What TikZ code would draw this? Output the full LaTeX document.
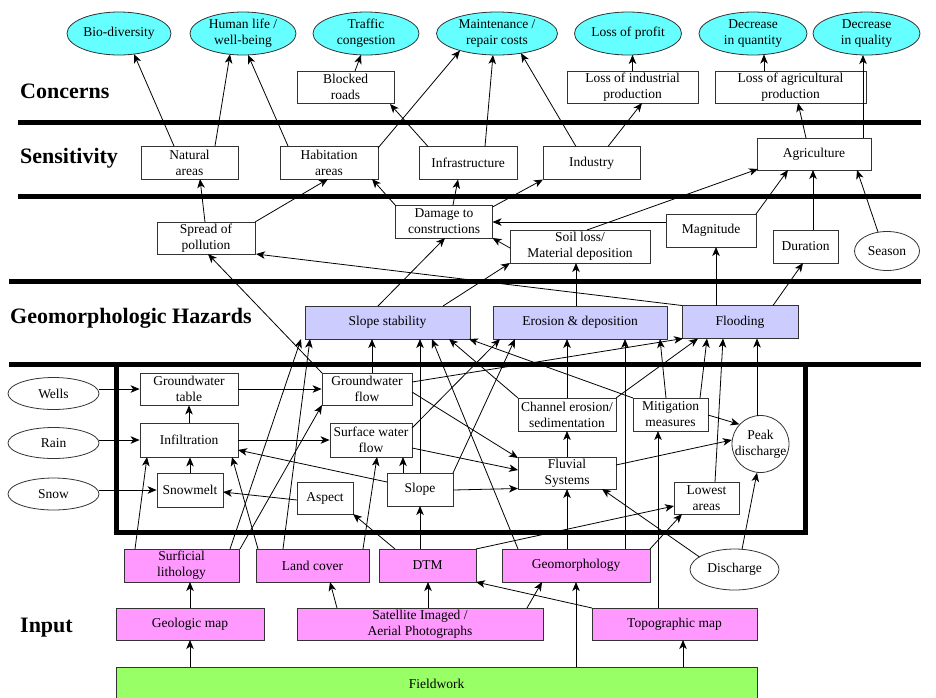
\documentclass[tikz,border=0pt]{standalone}
\usepackage{fontspec}
\setmainfont{Liberation Serif}
\usetikzlibrary{arrows.meta,shapes.geometric,calc}
\definecolor{conc}{HTML}{66FFFF}
\definecolor{hazc}{HTML}{CCCCFF}
\definecolor{inpc}{HTML}{FF99FF}
\definecolor{fwc}{HTML}{99FF66}
\newcommand\nf{\fontsize{13.5}{16}\selectfont}
\newcommand\edg[4]{\draw[arr] ($(#1.center)+(#2)$) -- ($(#3.center)+(#4)$);}
\tikzset{
  bx/.style={draw=black!80, line width=0.8pt, fill=white, inner sep=1pt, align=center, minimum height=33pt},
  haz/.style={bx, fill=hazc},
  inp/.style={bx, fill=inpc},
  con/.style={ellipse, draw=black!80, line width=0.8pt, fill=conc, inner sep=0pt, align=center, minimum height=43pt},
  oval/.style={ellipse, draw=black!80, line width=0.8pt, fill=white, inner sep=0pt, align=center},
  arr/.style={-{Stealth[length=9pt,width=7.5pt,inset=2.5pt]}, line width=0.8pt},
  thk/.style={line width=5pt},
  hd/.style={anchor=west, inner sep=0pt, font=\fontsize{22}{24}\selectfont\bfseries}
}
\begin{document}
\begin{tikzpicture}[x=1pt,y=-1pt,font=\nf]
\useasboundingbox (0,0) rectangle (936,697);
% headings
\node[hd] (hc) at (20,91) {Concerns};
\node[hd] (hs) at (20,158) {Sensitivity};
\node[hd] (hg) at (10,318) {Geomorphologic Hazards};
\node[hd] (hi) at (20,628) {Input};
% separators
\draw[thk] (18,122) -- (921,122);
\draw[thk] (18,196.5) -- (921,196.5);
\draw[thk] (9,281) -- (921,281);
\draw[thk] (9,364.5) -- (921,364.5);
\draw[thk, line join=miter] (116,362) -- (116,532) -- (805,532) -- (805,362);
% concerns
\node[con, minimum width=104pt] (bio) at (119,33.5) {Bio-diversity};
\node[con, minimum width=106pt] (hum) at (243,33.5) {Human life /\\well-being};
\node[con, minimum width=106pt] (tra) at (366,33.5) {Traffic\\congestion};
\node[con, minimum width=121pt] (mai) at (497,33.5) {Maintenance /\\repair costs};
\node[con, minimum width=107pt] (pro) at (628,33.5) {Loss of profit};
\node[con, minimum width=108pt] (dqn) at (753,33.5) {Decrease\\in quantity};
\node[con, minimum width=107pt] (dql) at (866.5,33.5) {Decrease\\in quality};
\node[bx, minimum width=97pt, minimum height=32pt] (blk) at (345.5,87) {Blocked\\roads};
\node[bx, minimum width=131pt, minimum height=32pt] (lip) at (632.5,87) {Loss of industrial\\production};
\node[bx, minimum width=151pt, minimum height=32pt] (lap) at (790.5,87) {Loss of agricultural\\production};
% sensitivity
\node[bx, minimum width=97pt] (nat) at (189.5,162.5) {Natural\\areas};
\node[bx, minimum width=98pt] (hab) at (329,162.5) {Habitation\\areas};
\node[bx, minimum width=98pt] (inf) at (468,163) {Infrastructure};
\node[bx, minimum width=97pt] (ind) at (591.5,163) {Industry};
\node[bx, minimum width=114pt, minimum height=32pt] (agr) at (814,154) {Agriculture};
% intermediate
\node[bx, minimum width=98pt, minimum height=32pt] (spr) at (206,238) {Spread of\\pollution};
\node[bx, minimum width=97pt] (dam) at (444,221.5) {Damage to\\constructions};
\node[bx, minimum width=140pt] (soil) at (580,246.5) {Soil loss/\\Material deposition};
\node[bx, minimum width=90pt] (mag) at (711,230.5) {Magnitude};
\node[bx, minimum width=65pt] (dur) at (805.5,246.5) {Duration};
\node[oval, minimum width=65pt, minimum height=39pt] (sea) at (887,251) {Season};
% hazards
\node[haz, minimum width=165pt] (ss) at (387.5,322.5) {Slope stability};
\node[haz, minimum width=174pt] (ed) at (580,322.5) {Erosion \& deposition};
\node[haz, minimum width=116pt] (fl) at (740,322) {Flooding};
% box contents
\node[oval, minimum width=91pt, minimum height=32pt] (wel) at (53.5,393.5) {Wells};
\node[oval, minimum width=91pt, minimum height=31pt] (rai) at (53.5,443) {Rain};
\node[oval, minimum width=91pt, minimum height=32pt] (sno) at (53.5,494) {Snow};
\node[bx, minimum width=98pt, minimum height=32pt] (gwt) at (189,389) {Groundwater\\table};
\node[bx, minimum width=98pt, minimum height=34pt] (ifl) at (189,440) {Infiltration};
\node[bx, minimum width=66pt, minimum height=34pt] (snm) at (190,490) {Snowmelt};
\node[bx, minimum width=90pt, minimum height=32pt] (gwf) at (367,389) {Groundwater\\flow};
\node[bx, minimum width=82pt, minimum height=34pt] (swf) at (371,440) {Surface water\\flow};
\node[bx, minimum width=56pt, minimum height=32pt] (asp) at (325,498) {Aspect};
\node[bx, minimum width=66pt] (slp) at (420,489.5) {Slope};
\node[bx, minimum width=98pt] (ce) at (567,414.5) {Channel erosion/\\sedimentation};
\node[bx, minimum width=75pt] (mm) at (670.5,414.5) {Mitigation\\measures};
\node[circle, draw=black!80, line width=0.8pt, fill=white, minimum size=57pt, inner sep=0pt] (pk) at (760.5,444) {};
\node[align=center, inner sep=0pt] (pkt) at (pk.center) {Peak\\discharge};
\node[bx, minimum width=98pt, minimum height=32pt] (fs) at (567,473) {Fluvial\\Systems};
\node[bx, minimum width=65pt, minimum height=32pt] (la) at (706.5,498) {Lowest\\areas};
% input
\node[inp, minimum width=115pt] (sl) at (181.5,565.5) {Surficial\\lithology};
\node[inp, minimum width=113pt] (lc) at (312.5,565.5) {Land cover};
\node[inp, minimum width=97pt] (dtm) at (427.5,565.5) {DTM};
\node[inp, minimum width=148pt] (geo) at (576,565.5) {Geomorphology};
\node[oval, minimum width=89pt, minimum height=41pt] (dis) at (734.5,569.5) {Discharge};
\node[inp, minimum width=148pt, minimum height=32pt] (gm) at (190,624) {Geologic map};
\node[inp, minimum width=246pt, minimum height=32pt] (sat) at (420,624) {Satellite Imaged /\\Aerial Photographs};
\node[inp, minimum width=165pt, minimum height=32pt] (top) at (674.5,624) {Topographic map};
\node[bx, fill=fwc, minimum width=641pt, minimum height=38pt] (fw) at (436.5,686) {};
\node[inner sep=0pt] (fwt) at (436.5,684) {Fieldwork};
% concerns edges
\edg{nat}{-15.5,-16.5}{bio}{15,20.6}
\edg{nat}{25.5,-16.5}{hum}{-13,20.8}
\edg{hab}{-41,-16.5}{hum}{5,21.4}
\edg{hab}{49,-14.5}{mai}{-37,17}
\edg{inf}{-40,-16.5}{blk}{44.5,17}
\edg{inf}{17,-16.5}{mai}{-4,21.5}
\edg{ind}{-15.5,-16.5}{mai}{24,19.7}
\edg{ind}{16.5,-16.5}{lip}{9.5,16}
\edg{blk}{9.5,-16}{tra}{-5,21.4}
\edg{lip}{0,-16}{pro}{4.5,21.4}
\edg{lap}{-26.5,-16}{dqn}{11,21}
\edg{agr}{-8,-16}{lap}{7.5,16}
\edg{agr}{49,-16}{dql}{-3.5,21.5}
% sensitivity edges
\edg{spr}{-1,-16}{nat}{10.5,16.5}
\edg{spr}{49,-16}{hab}{-1,16.5}
\edg{dam}{-48,-15.5}{hab}{43,16.5}
\edg{dam}{9,-16.5}{inf}{-10,16.5}
\edg{dam}{48.5,-14.5}{ind}{-48.5,16.5}
\edg{soil}{-70,1.5}{dam}{48.5,16.5}
\edg{soil}{7,-16.5}{agr}{-56,15}
\edg{mag}{-45,-8.5}{dam}{48.5,0.5}
\edg{mag}{45,-16.5}{agr}{-26,16}
\edg{dur}{7.5,-16.5}{agr}{-1,16}
\edg{sea}{-9,-19}{agr}{43,16}
\edg{ss}{-9.5,-16.5}{dam}{1,16.5}
\edg{ss}{55.5,-16.5}{soil}{-70,16.5}
\edg{ed}{-4,-16.5}{soil}{-4,16.5}
\edg{fl}{-24,-16.5}{mag}{5,16.5}
\edg{fl}{33,-16.5}{dur}{-2.5,16.5}
\edg{fl}{-58,-16.5}{spr}{50,16}
\edg{gwf}{-45,-16}{spr}{2,16}
% hazard inputs
\edg{sl}{48.5,-16.5}{ss}{-86.5,16.5}
\edg{lc}{-29.5,-16.5}{ss}{-77.5,16.5}
\edg{gwf}{5,-16}{ss}{-15.5,16.5}
\edg{slp}{0,-16.5}{ss}{32.5,16.5}
\edg{geo}{-58,-16.5}{ss}{44.5,16.5}
\edg{ce}{-49,-16.5}{ss}{61.5,16.5}
\edg{mm}{-37.5,-16.5}{ss}{81.5,16.5}
\edg{swf}{41,-12}{ed}{-80,16.5}
\edg{slp}{33,-16.5}{ed}{-65,16.5}
\edg{ce}{0,-16.5}{ed}{-13,16.5}
\edg{geo}{49,-16.5}{ed}{45,16.5}
\edg{mm}{-4.5,-16.5}{ed}{80,16.5}
\edg{gwf}{45,-7}{fl}{-57,16.5}
\edg{ce}{49,-16.5}{fl}{-42,16.5}
\edg{mm}{29.5,-16.5}{fl}{-33,16.5}
\edg{la}{8.5,-16}{fl}{-17,16.5}
\edg{pk}{-3.5,-28.3}{fl}{17,16.5}
% box internal
\draw[arr] (wel.east |- gwt.west) -- (gwt.west);
\draw[arr] (rai.east |- ifl.west) -- (ifl.west);
\draw[arr] (sno.east |- snm.west) -- (snm.west);
\draw[arr] (gwt.east) -- (gwf.west);
\draw[arr] (ifl.north) -- (gwt.south);
\draw[arr] (snm.north) -- (ifl.south -| snm.north);
\draw[arr] (ifl.east) -- (swf.west);
\edg{asp}{-28,2}{snm}{33,2}
\edg{slp}{-33,-7.5}{ifl}{49,10}
\edg{slp}{-17,-16.5}{swf}{32,17}
\edg{gwf}{45,3}{fs}{-49,-15}
\edg{swf}{41,8}{fs}{-49,-3}
\edg{slp}{33,0.5}{fs}{-49,15.5}
\edg{fs}{0,-16}{ce}{0,16.5}
\draw[arr] ($(fs.center)+(49,-8)$) -- (pk.172);
\draw[arr] ($(mm.center)+(37.5,0.5)$) -- (pk.137);
\draw[arr] ($(dis.center)+(7.5,-20.2)$) -- (pk.263);
\edg{dis}{-35,-12.5}{fs}{35,16}
\edg{dtm}{-32.5,-16.5}{asp}{28,16}
\edg{dtm}{-7.5,-16.5}{slp}{0,16.5}
\edg{sl}{-46.5,-16.5}{ifl}{-42,17}
\edg{sl}{58.5,-16.5}{gwf}{-45,16}
\edg{lc}{-54.5,-16.5}{ifl}{43,17}
\edg{lc}{50.5,-16.5}{swf}{6,17}
\edg{dtm}{48.5,-16.5}{la}{-32.5,8}
\edg{geo}{-9,-16.5}{fs}{0,16}
\edg{geo}{74,-16.5}{la}{-24.5,16}
\edg{top}{-16.5,-16}{mm}{-12.5,16.5}
% input edges
\edg{top}{-82.5,-16}{dtm}{48.5,16.5}
\edg{sat}{-83,-16}{lc}{17.5,16.5}
\edg{sat}{8,-16}{dtm}{0.5,16.5}
\edg{sat}{107,-16}{geo}{-34,16.5}
\edg{gm}{0,-16}{sl}{8.5,16.5}
\edg{fw}{-246.5,-19}{gm}{0,16}
\edg{fw}{139.5,-19}{geo}{0,16.5}
\edg{fw}{246.5,-19}{top}{8.5,16}
\end{tikzpicture}
\end{document}
